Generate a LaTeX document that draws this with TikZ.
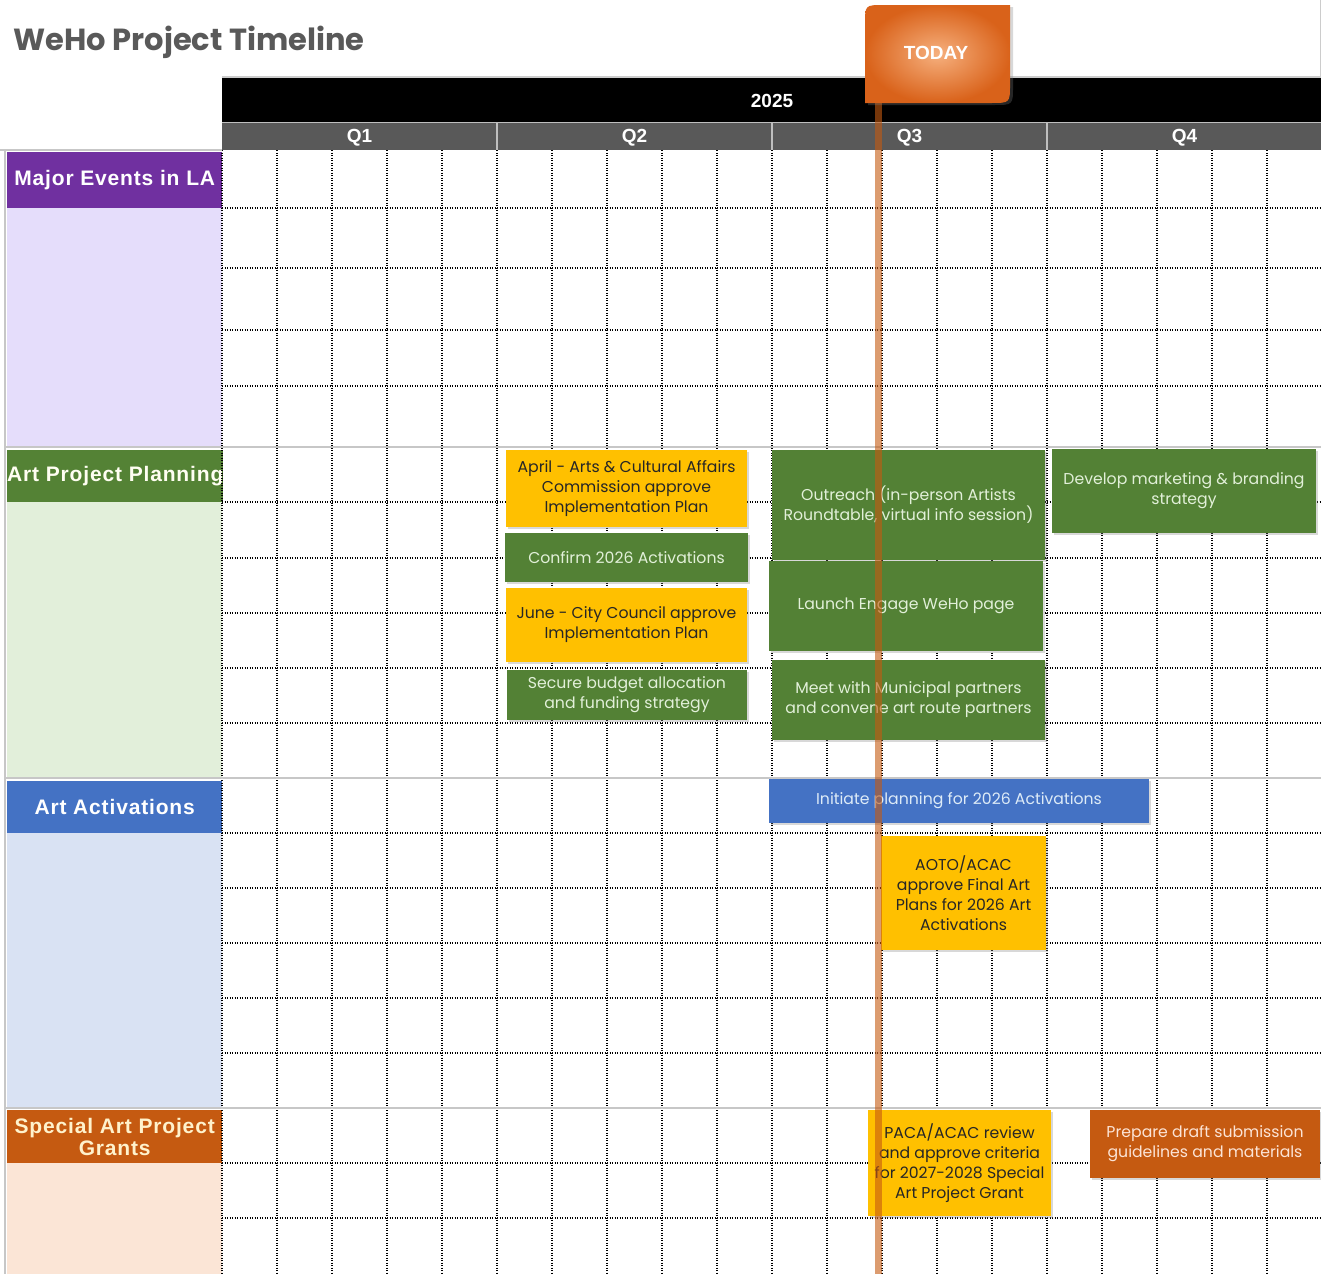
\documentclass[tikz,border=0pt]{standalone}
\usepackage{fontspec}
\setmainfont{Poppins}
\newfontfamily\headfont{Liberation Sans}
\usetikzlibrary{shadows}
\definecolor{titlegray}{HTML}{595959}
\definecolor{quartergray}{HTML}{595959}
\definecolor{lanepurple}{HTML}{7030A0}
\definecolor{lanelilac}{HTML}{E5DDFB}
\definecolor{lanegreen}{HTML}{548235}
\definecolor{lanemint}{HTML}{E2EFDA}
\definecolor{laneblue}{HTML}{4472C4}
\definecolor{lanesky}{HTML}{D9E2F3}
\definecolor{laneorange}{HTML}{C55A11}
\definecolor{lanepeach}{HTML}{FBE5D6}
\definecolor{taskgold}{HTML}{FFC000}
\definecolor{taskgreen}{HTML}{538135}
\definecolor{paletext}{HTML}{E2F0D9}
\definecolor{skytext}{HTML}{DDEBF7}
\definecolor{peachtext}{HTML}{FCE4D6}
\definecolor{creamtext}{HTML}{FFF2CC}
\definecolor{flagdark}{HTML}{D9621A}
\definecolor{flaglight}{HTML}{F6B07E}
\definecolor{todayline}{HTML}{C55A11}

\begin{document}
\begin{tikzpicture}[x=1pt, y=-1pt,
  grid/.style={draw=black, line width=1.15pt, dash pattern=on 1pt off 1.5pt},
  band/.style={draw=black!22, line width=2.5pt},
  lane/.style={anchor=north west, minimum width=215pt, inner sep=0pt, align=center,
               font=\headfont\addfontfeature{LetterSpace=4}\bfseries\fontsize{21}{22}\selectfont},
  yearlabel/.style={text=white, font=\headfont\bfseries\fontsize{19}{20}\selectfont},
  task/.style={inner sep=2pt, align=center, font=\fontsize{15.7}{20}\selectfont,
               drop shadow={opacity=0.3, shadow xshift=2pt, shadow yshift=-2pt}},
  goldtask/.style={task, fill=taskgold, text=black!85},
  greentask/.style={task, fill=taskgreen, text=paletext},
  bluetask/.style={task, fill=laneblue, text=skytext},
  orangetask/.style={task, fill=laneorange, text=peachtext}]
  \useasboundingbox (0,0) rectangle (1321,1274);
  \fill[white] (0,0) rectangle (1321,1274);

  \node[anchor=west, text=titlegray, font=\bfseries\fontsize{30.5}{33}\selectfont] (title) at (10,42) {WeHo Project Timeline};

  % year and quarter header
  \draw[black!20, line width=1.5pt] (222,77) -- (1321,77);
  \draw[black!20, line width=1pt] (1320,0) -- (1320,77);
  \fill[black] (222,78) rectangle (1321,122);
  \node[yearlabel] (year) at (772,101) {2025};
  \fill[quartergray] (222,122) rectangle (1321,150);
  \draw[black!25, line width=1pt] (222,122) -- (1321,122);
  \foreach \qx in {497,772,1047}
    \draw[black!25, line width=2pt] (\qx,122) -- (\qx,150);
  \foreach \q/\qx in {1/359.5, 2/634.5, 3/909.5, 4/1184.5}
    \node[yearlabel] (q\q) at (\qx,138) {Q\q};

  % swim lanes
  \fill[lanelilac] (7,208) rectangle (222,447);
  \fill[lanemint]  (7,502) rectangle (222,778);
  \fill[lanesky]   (7,833) rectangle (222,1108);
  \fill[lanepeach] (7,1163) rectangle (222,1274);
  \node[lane, fill=lanepurple, text=white, minimum height=56pt] (major) at (7,152) {Major Events in LA};
  \node[lane, fill=lanegreen, text=white!95!yellow, minimum height=52pt] (planning) at (7,450) {Art Project Planning};
  \node[lane, fill=laneblue, text=white, minimum height=52pt] (activations) at (7,781) {Art Activations};
  \node[lane, fill=laneorange, text=creamtext, minimum height=53pt] (grants) at (7,1110) {Special Art Project\\Grants};

  % month grid
  \foreach \gx in {222,277,...,1267}
    \draw[grid] (\gx,150) -- (\gx,1274);
  \foreach \gy in {208,268,330,386,502,558,613,668,723,833,888,943,998,1053,1163,1218}
    \draw[grid] (222,\gy) -- (1321,\gy);
  \draw[band] (0,150) -- (222,150);
  \draw[band] (5,150) -- (5,1274);
  \foreach \gy in {447,778,1108}
    \draw[band] (5,\gy) -- (1321,\gy);

  % planning tasks
  \node[goldtask, minimum width=241pt, minimum height=77pt] (apr) at (626.5,488.5)
    {April - Arts \& Cultural Affairs\\Commission approve\\Implementation Plan};
  \node[greentask, minimum width=243pt, minimum height=49pt] (confirm) at (626.5,557.5)
    {Confirm 2026 Activations};
  \node[goldtask, minimum width=241pt, minimum height=74pt] (june) at (626.5,625)
    {June - City Council approve\\Implementation Plan};
  \node[greentask, minimum width=240pt, minimum height=50pt] (budget) at (627,695)
    {Secure budget allocation\\and funding strategy};
  \node[greentask, minimum width=273pt, minimum height=110pt] (outreach) at (908.5,505)
    {Outreach (in-person Artists\\Roundtable, virtual info session)};
  \node[greentask, minimum width=274pt, minimum height=90pt] (launch) at (906,606)
    {Launch Engage WeHo page};
  \node[greentask, minimum width=273pt, minimum height=80pt] (meet) at (908.5,700)
    {Meet with Municipal partners\\and convene art route partners};
  \node[greentask, minimum width=264pt, minimum height=84pt] (branding) at (1184,491)
    {Develop marketing \& branding\\strategy};

  % activation tasks
  \node[bluetask, minimum width=380pt, minimum height=44pt] (initiate) at (959,801)
    {Initiate planning for 2026 Activations};
  \node[goldtask, minimum width=165pt, minimum height=114pt] (aoto) at (963.5,893)
    {AOTO/ACAC\\approve Final Art\\Plans for 2026 Art\\Activations};

  % grant tasks
  \node[goldtask, minimum width=183pt, minimum height=106pt] (paca) at (959.5,1163)
    {PACA/ACAC review\\and approve criteria\\for 2027-2028 Special\\Art Project Grant};
  \node[orangetask, minimum width=230pt, minimum height=68pt] (draft) at (1205,1144)
    {Prepare draft submission\\guidelines and materials};

  % today marker
  \coordinate (todaytop) at (878,100);
  \coordinate (todaybot) at (878,1274);
  \draw[todayline, opacity=0.6, line width=7pt] (todaytop) -- (todaybot);
  \shade[inner color=flaglight, outer color=flagdark,
         drop shadow={opacity=0.3, shadow xshift=3pt, shadow yshift=-2pt}]
    (865,103) -- (865,24) .. controls (865,5) .. (884,5) -- (1010,5)
    -- (1010,84) .. controls (1010,103) .. (991,103) -- cycle;
  \node[text=white, font=\headfont\bfseries\fontsize{19}{20}\selectfont] (today) at (936,53) {TODAY};
\end{tikzpicture}
\end{document}
